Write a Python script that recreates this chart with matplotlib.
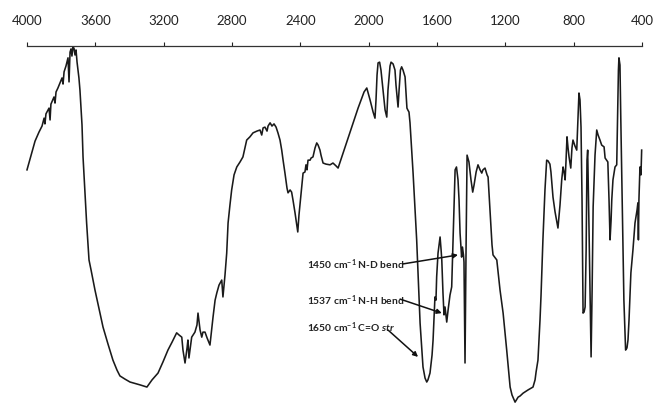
import matplotlib
matplotlib.use("Agg")
import matplotlib.pyplot as plt

plt.rcParams['font.family'] = ['Lato', 'DejaVu Sans']
plt.rcParams['mathtext.fontset'] = 'custom'
plt.rcParams['mathtext.rm'] = 'Lato:bold'
plt.rcParams['mathtext.it'] = 'Lato:bold:italic'
plt.rcParams['mathtext.bf'] = 'Lato:bold'

# IR spectrum, wavenumber (cm-1) vs transmittance (%)
wavenumber = [
    4000, 3977, 3953, 3930, 3912, 3900, 3895, 3889, 3871, 3865, 3860, 3842, 3836, 3830, 3819,
    3807, 3795, 3789, 3783, 3772, 3760, 3754, 3748, 3742, 3737, 3731, 3725, 3719, 3713, 3707,
    3696, 3690, 3678, 3672, 3660, 3651, 3637, 3625, 3602, 3579, 3555, 3526, 3497, 3473, 3456,
    3426, 3397, 3338, 3298, 3268, 3233, 3204, 3175, 3151, 3124, 3110, 3094, 3087, 3075, 3063,
    3058, 3052, 3036, 3028, 3017, 3005, 2999, 2987, 2977, 2970, 2958, 2946, 2929, 2911, 2899,
    2889, 2876, 2860, 2853, 2841, 2831, 2823, 2812, 2802, 2788, 2772, 2753, 2736, 2724, 2714,
    2695, 2677, 2654, 2636, 2626, 2618, 2607, 2595, 2589, 2577, 2566, 2554, 2542, 2531, 2519,
    2509, 2501, 2490, 2478, 2472, 2460, 2451, 2443, 2431, 2415, 2408, 2398, 2390, 2384, 2373,
    2367, 2361, 2355, 2343, 2337, 2326, 2314, 2304, 2296, 2285, 2279, 2267, 2250, 2226, 2209,
    2191, 2179, 2144, 2099, 2062, 2027, 2011, 1992, 1974, 1963, 1957, 1951, 1945, 1936, 1928,
    1916, 1904, 1894, 1887, 1875, 1869, 1857, 1846, 1840, 1828, 1822, 1814, 1807, 1799, 1787,
    1781, 1776, 1771, 1764, 1758, 1740, 1719, 1699, 1682, 1670, 1660, 1653, 1641, 1629, 1623,
    1612, 1606, 1602, 1594, 1588, 1582, 1576, 1572, 1565, 1559, 1553, 1543, 1535, 1524, 1514,
    1506, 1494, 1486, 1477, 1471, 1465, 1456, 1451, 1445, 1442, 1436, 1430, 1424, 1413, 1401,
    1391, 1383, 1371, 1360, 1348, 1338, 1331, 1319, 1307, 1301, 1290, 1278, 1272, 1250, 1231,
    1213, 1192, 1172, 1161, 1143, 1131, 1125, 1114, 1096, 1067, 1038, 1026, 1020, 1009, 997,
    991, 980, 968, 958, 950, 939, 933, 921, 909, 892, 880, 870, 862, 856, 850,
    845, 839, 833, 827, 817, 810, 804, 792, 782, 774, 769, 763, 757, 751, 745,
    739, 733, 727, 722, 718, 716, 710, 698, 692, 686, 675, 665, 657, 646, 636,
    628, 622, 616, 600, 593, 587, 581, 577, 570, 558, 548, 543, 538, 535, 529,
    524, 512, 506, 496, 488, 482, 476, 465, 453, 441, 429, 424, 421, 418, 412,
    406, 402,
]
transmittance = [
    65.5, 69.4, 73.5, 76.0, 77.7, 79.9, 78.3, 81.1, 82.7, 79.4, 83.8, 85.8, 84.1, 87.2, 88.3,
    89.7, 91.1, 89.4, 92.8, 94.4, 96.7, 90.0, 98.3, 99.2, 97.2, 99.7, 99.4, 97.5, 98.9, 95.5,
    91.1, 87.7, 78.0, 69.1, 58.5, 50.7, 40.4, 37.6, 32.0, 27.0, 21.7, 17.0, 12.5, 9.7, 8.1,
    7.2, 6.4, 5.6, 5.0, 7.0, 8.9, 12.0, 15.3, 17.5, 20.1, 19.5, 18.9, 15.3, 11.7, 15.9,
    18.1, 13.1, 18.9, 19.5, 20.3, 22.3, 25.6, 20.9, 18.9, 20.3, 20.3, 18.7, 16.7, 24.5, 29.2,
    31.2, 33.4, 34.8, 30.1, 36.2, 42.3, 50.7, 55.7, 59.9, 64.1, 66.3, 67.7, 69.1, 71.6, 73.8,
    74.7, 75.8, 76.3, 76.6, 75.2, 77.2, 77.4, 76.3, 77.7, 78.6, 77.7, 78.3, 77.4, 75.8, 73.8,
    71.0, 68.2, 64.6, 60.4, 59.1, 59.9, 59.3, 57.1, 53.5, 48.2, 52.9, 57.9, 62.1, 64.6, 64.9,
    66.9, 65.5, 68.2, 68.2, 68.8, 69.1, 71.6, 73.0, 72.4, 71.0, 69.6, 67.4, 67.1, 66.9, 67.4,
    66.6, 66.0, 71.0, 77.4, 82.7, 87.2, 88.3, 85.0, 81.6, 79.9, 85.0, 91.9, 95.3, 95.5, 93.3,
    87.7, 82.2, 80.2, 87.7, 94.4, 95.5, 95.0, 93.3, 89.1, 83.0, 87.7, 93.3, 94.2, 93.3, 91.4,
    86.4, 82.7, 82.2, 81.6, 78.6, 64.6, 46.0, 22.8, 10.6, 7.5, 6.4, 7.0, 8.9, 13.9, 18.1,
    30.1, 29.2, 35.7, 42.3, 44.6, 46.8, 43.2, 40.4, 31.2, 25.1, 27.3, 23.1, 26.5, 30.6, 32.9,
    46.0, 65.5, 66.3, 62.7, 57.1, 47.9, 41.2, 44.0, 41.8, 39.8, 11.7, 43.2, 69.6, 67.7, 62.7,
    59.3, 61.3, 64.9, 66.9, 65.5, 64.6, 65.5, 66.0, 64.1, 63.5, 54.3, 44.6, 41.8, 40.4, 32.0,
    25.6, 15.3, 5.0, 2.8, 0.8, 1.7, 2.2, 2.5, 3.3, 4.2, 5.0, 7.0, 9.2, 12.5, 23.7,
    30.6, 46.0, 59.9, 68.2, 68.0, 67.1, 64.9, 57.9, 53.8, 49.3, 55.7, 62.7, 66.3, 64.9, 62.7,
    67.7, 74.7, 71.6, 69.1, 66.0, 71.6, 73.8, 72.1, 71.0, 80.8, 86.9, 85.0, 77.4, 57.1, 25.6,
    25.9, 27.3, 43.2, 68.2, 71.0, 65.5, 48.7, 13.4, 32.0, 55.2, 69.6, 76.6, 75.2, 73.8, 72.4,
    72.1, 71.9, 68.8, 67.7, 57.1, 46.0, 51.5, 57.1, 62.7, 66.3, 66.9, 79.4, 93.3, 96.7, 94.7,
    79.4, 46.0, 29.2, 15.3, 15.9, 18.1, 23.7, 36.8, 43.2, 50.7, 54.3, 56.3, 46.0, 57.1, 66.3,
    64.1, 71.0,
]

ticks = [4000, 3600, 3200, 2800, 2400, 2000, 1600, 1200, 800, 400]

# peak labels: text, text anchor (wn, %T), arrow tail, arrow head
labels = [
    ("1450 cm$^{-1}$ N-D bend", (2361, 39.0), (1799, 39.3), (1477, 41.8)),
    ("1537 cm$^{-1}$ N-H bend", (2361, 29.0), (1816, 29.5), (1572, 25.6)),
    ("1650 cm$^{-1}$ C=O $\\mathit{str}$", (2361, 21.4), (1887, 20.9), (1711, 13.4)),
]

fig = plt.figure(figsize=(6.54, 4.05), dpi=100)
ax = fig.add_axes([27 / 654, 0, 615 / 654, 359 / 405])

ax.plot(wavenumber, transmittance, color='#1a1a1a', lw=1.15, clip_on=False)

ax.set_xlim(4000, 400)
ax.set_ylim(0, 100)
ax.xaxis.tick_top()
ax.set_xticks(ticks)
ax.set_xticklabels([str(t) for t in ticks])
ax.tick_params(axis='x', direction='out', length=3, width=0.8, pad=11,
               labelsize=9.5, colors='#222222')
ax.set_yticks([])
for s in ['left', 'right', 'bottom']:
    ax.spines[s].set_visible(False)
ax.spines['top'].set_color('#333333')
ax.spines['top'].set_linewidth(0.9)

for txt, pos, tail, head in labels:
    ax.text(pos[0], pos[1], txt, fontsize=7.4, fontweight='bold', color='#222222',
            ha='left', va='center')
    ax.annotate('', xy=head, xytext=tail,
                arrowprops=dict(arrowstyle='-|>', color='#111111', lw=1.1,
                                mutation_scale=7, shrinkA=0, shrinkB=0))

fig.savefig('out.png', dpi=100)
